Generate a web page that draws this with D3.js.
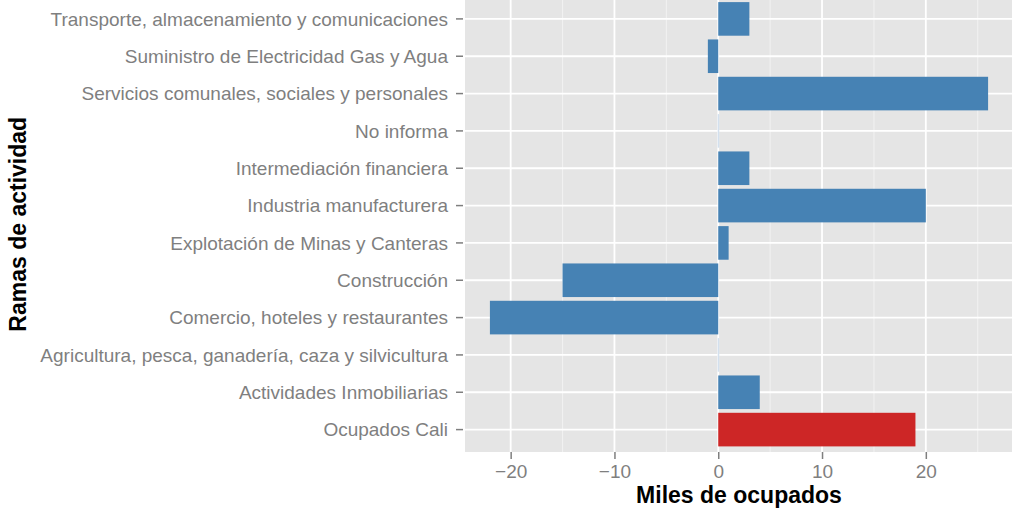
<!DOCTYPE html>
<html>
<head>
  <meta charset="utf-8">
  <title>Ramas de actividad</title>
  <style>
    body { margin: 0; background: #fff; font-family: "Liberation Sans", Arial, sans-serif; }
    svg { display: block; }
  </style>
</head>
<body>
  <svg width="1012" height="509"></svg>
  <script src="https://d3js.org/d3.v7.min.js"></script>
  <script>
    // categories from top to bottom
    const categories = [
      "Transporte, almacenamiento y comunicaciones",
      "Suministro de Electricidad Gas y Agua",
      "Servicios comunales, sociales y personales",
      "No informa",
      "Intermediación financiera",
      "Industria manufacturera",
      "Explotación de Minas y Canteras",
      "Construcción",
      "Comercio, hoteles y restaurantes",
      "Agricultura, pesca, ganadería, caza y silvicultura",
      "Actividades Inmobiliarias",
      "Ocupados Cali"
    ];
    const values = [3, -1, 26, 0, 3, 20, 1, -15, -22, 0, 4, 19];
    const xTicks = [-20, -10, 0, 10, 20];
    const xMinor = [-15, -5, 5, 15, 25];

    const svg = d3.select("svg");
    const panel = { left: 465, right: 1013, top: -3.5, bottom: 452 };

    const x = d3.scaleLinear().domain([-24.4, 28.4]).range([panel.left, panel.right]);
    const y = d3.scaleBand().domain(categories)
      .range([panel.top, panel.bottom]).paddingInner(0.1).paddingOuter(0.15);

    // panel background
    svg.append("rect")
      .attr("x", panel.left).attr("y", panel.top)
      .attr("width", panel.right - panel.left).attr("height", panel.bottom - panel.top)
      .attr("fill", "#e5e5e5");

    // minor grid
    svg.selectAll(".minor").data(xMinor).enter().append("line")
      .attr("x1", d => x(d)).attr("x2", d => x(d))
      .attr("y1", panel.top).attr("y2", panel.bottom)
      .attr("stroke", "#f2f2f2").attr("stroke-width", 1);

    // major grid
    svg.selectAll(".vmajor").data(xTicks).enter().append("line")
      .attr("x1", d => x(d)).attr("x2", d => x(d))
      .attr("y1", panel.top).attr("y2", panel.bottom)
      .attr("stroke", "#fff").attr("stroke-width", 1.8);
    svg.selectAll(".hmajor").data(categories).enter().append("line")
      .attr("x1", panel.left).attr("x2", panel.right)
      .attr("y1", d => y(d) + y.bandwidth() / 2).attr("y2", d => y(d) + y.bandwidth() / 2)
      .attr("stroke", "#fff").attr("stroke-width", 1.8);

    // bars
    svg.selectAll(".bar").data(categories).enter().append("rect")
      .attr("x", (d, i) => values[i] === 0 ? x(0) - 0.5 : Math.min(x(0), x(values[i])))
      .attr("y", d => y(d))
      .attr("width", (d, i) => values[i] === 0 ? 1.5 : Math.abs(x(values[i]) - x(0)))
      .attr("height", y.bandwidth())
      .attr("fill", (d, i) => values[i] === 0 ? "#d3e0ee" : (d === "Ocupados Cali" ? "#cd2626" : "#4682b4"));

    // y axis
    const yAxis = svg.append("g").attr("transform", `translate(${panel.left},0)`)
      .call(d3.axisLeft(y).tickSize(7).tickPadding(5));
    yAxis.select(".domain").remove();
    yAxis.selectAll(".tick line").attr("stroke", "#7f7f7f").attr("stroke-width", 1.5)
      .attr("transform", "translate(-2,0)");
    yAxis.selectAll(".tick text")
      .attr("fill", "#7f7f7f").attr("font-size", 19)
      .attr("font-family", "Liberation Sans, Arial, sans-serif")
      .attr("dy", "0.35em").attr("x", -17);

    // x axis
    const xAxis = svg.append("g").attr("transform", `translate(0,${panel.bottom})`)
      .call(d3.axisBottom(x).tickValues(xTicks).tickSize(7).tickPadding(6)
        .tickFormat(d => d < 0 ? "\u2212" + Math.abs(d) : d));
    xAxis.select(".domain").remove();
    xAxis.selectAll(".tick line").attr("stroke", "#7f7f7f").attr("stroke-width", 1.5);
    xAxis.selectAll(".tick text")
      .attr("fill", "#7f7f7f").attr("font-size", 19)
      .attr("font-family", "Liberation Sans, Arial, sans-serif");

    // axis titles
    svg.append("text")
      .attr("x", (panel.left + panel.right) / 2).attr("y", 503)
      .attr("text-anchor", "middle")
      .attr("font-size", 23).attr("font-weight", "bold").attr("fill", "#000")
      .text("Miles de ocupados");
    svg.append("text")
      .attr("transform", `translate(26,${(panel.top + panel.bottom) / 2}) rotate(-90)`)
      .attr("text-anchor", "middle")
      .attr("font-size", 23).attr("font-weight", "bold").attr("fill", "#000")
      .text("Ramas de actividad");
  </script>
</body>
</html>
